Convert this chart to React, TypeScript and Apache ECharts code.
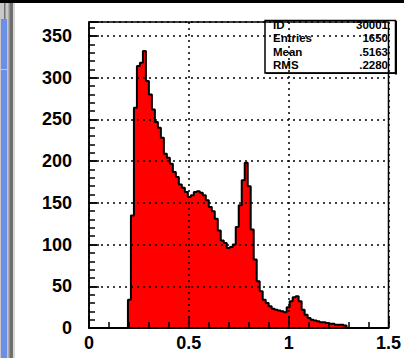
import React, { useEffect, useRef } from "react";
import * as echarts from "echarts";

// Histogram 30001: 100 bins of width 0.015 on [0, 1.5]
const X_MIN = 0;
const X_MAX = 1.5;
const BIN_WIDTH = 0.015;
const Y_MAX = 366.8;

const BIN_COUNTS = [
  0, 0, 0, 0, 0, 0, 0, 0, 0, 0,
  0, 0, 0, 34, 135, 264, 314, 318, 332, 296,
  280, 262, 247, 240, 228, 209, 204, 197, 187, 181,
  172, 168, 163, 157, 159, 163, 164, 162, 159, 153,
  145, 140, 131, 117, 105, 102, 96, 97, 100, 121,
  147, 177, 198, 170, 118, 82, 56, 44, 34, 30,
  26, 23, 22, 21, 20, 19, 25, 32, 37, 38,
  32, 22, 16, 12, 10, 9, 8, 7, 7, 6,
  5, 5, 4, 4, 4, 3, 0, 0, 0, 0,
  0, 0, 0, 0, 0, 0, 0, 0, 0, 0,
];

const STAT_NAMES = ["ID", "Entries", "Mean", "RMS"];
const STAT_VALUES = ["30001", "1650", ".5163", ".2280"];

const LABEL_FONT = "Liberation Sans";

export default function App() {
  const ref = useRef<HTMLDivElement>(null);

  useEffect(() => {
    if (!ref.current) return;
    const chart = echarts.init(ref.current, null, { renderer: "svg" });

    // left edges of each bin, plus the closing edge at X_MAX
    const stepData: number[][] = BIN_COUNTS.map((c, i) => [X_MIN + i * BIN_WIDTH, c]);
    stepData.push([X_MAX, BIN_COUNTS[BIN_COUNTS.length - 1]]);

    const dotted = { type: [2, 4] as number[], width: 1.5, color: "#000" };
    const gridBox = { left: 89, top: 22, width: 307, height: 306 };

    const statRowsY = [24.5, 38, 51.5, 65];
    const statTexts: any[] = [];
    STAT_NAMES.forEach((name, i) => {
      statTexts.push({
        type: "text",
        x: 273,
        y: statRowsY[i],
        style: {
          text: name,
          font: `bold 11.5px "${LABEL_FONT}"`,
          fill: "#000",
          align: "left",
          verticalAlign: "middle",
        },
      });
      statTexts.push({
        type: "text",
        x: 388,
        y: statRowsY[i],
        style: {
          text: STAT_VALUES[i],
          font: `bold 11.5px "${LABEL_FONT}"`,
          fill: "#000",
          align: "right",
          verticalAlign: "middle",
        },
      });
    });

    chart.setOption({
      animation: false,
      backgroundColor: "#fff",
      grid: [
        { ...gridBox, show: true, borderColor: "#000", borderWidth: 1.5, backgroundColor: "transparent" },
        { ...gridBox, show: false },
      ],
      xAxis: [
        {
          type: "value",
          gridIndex: 0,
          min: X_MIN,
          max: X_MAX,
          interval: 0.5,
          z: 5,
          axisLine: { show: true, lineStyle: { color: "#000", width: 1.5 } },
          axisTick: { show: true, inside: true, length: 12, lineStyle: { color: "#000", width: 1.5 } },
          minorTick: { show: true, splitNumber: 5, length: 6, lineStyle: { color: "#000", width: 1.5 } },
          splitLine: { show: true, lineStyle: dotted },
          axisLabel: {
            margin: 6,
            color: "#000",
            fontFamily: LABEL_FONT,
            fontWeight: "bold",
            fontSize: 18,
            alignMinLabel: "center",
            alignMaxLabel: "center",
            formatter: (v: number) => String(v),
          },
        },
        { type: "value", gridIndex: 1, min: X_MIN, max: X_MAX, show: false },
      ],
      yAxis: [
        {
          type: "value",
          gridIndex: 0,
          min: 0,
          max: Y_MAX,
          interval: 50,
          z: 5,
          axisLine: { show: true, lineStyle: { color: "#000", width: 1.5 } },
          axisTick: { show: true, inside: true, length: 10, lineStyle: { color: "#000", width: 1.5 } },
          splitLine: { show: true, lineStyle: dotted },
          axisLabel: {
            margin: 17,
            color: "#000",
            fontFamily: LABEL_FONT,
            fontWeight: "bold",
            fontSize: 18,
            formatter: (v: number) => (v % 50 === 0 ? String(v) : ""),
          },
        },
        {
          // minor ticks every 10 entries
          type: "value",
          gridIndex: 1,
          min: 0,
          max: Y_MAX,
          interval: 10,
          z: 5,
          axisLine: { show: false },
          axisTick: { show: true, inside: true, length: 6, lineStyle: { color: "#000", width: 1.5 } },
          splitLine: { show: false },
          axisLabel: { show: false },
        },
      ],
      series: [
        {
          type: "line",
          xAxisIndex: 0,
          yAxisIndex: 0,
          step: "end",
          data: stepData,
          symbol: "none",
          lineStyle: { color: "#000", width: 2 },
          areaStyle: { color: "#ff0000", opacity: 1 },
          z: 2,
        },
      ],
      graphic: [
        // window chrome
        { type: "rect", shape: { x: 0, y: 0, width: 404, height: 3 }, style: { fill: "#000" } },
        { type: "rect", shape: { x: 0, y: 3, width: 15, height: 355 }, style: { fill: "#c8c8c8" } },
        { type: "rect", shape: { x: 1, y: 19, width: 6, height: 339 }, style: { fill: "#6b8ee8" } },
        { type: "rect", shape: { x: 1, y: 69, width: 6, height: 1 }, style: { fill: "#b8c8f0" } },
        { type: "rect", shape: { x: 4, y: 3, width: 1.5, height: 16 }, style: { fill: "#707070" } },
        { type: "rect", shape: { x: 8.5, y: 3, width: 1.5, height: 355 }, style: { fill: "#909090" } },
        { type: "rect", shape: { x: 10, y: 3, width: 3, height: 355 }, style: { fill: "#6e6e6e" } },
        { type: "rect", shape: { x: 13, y: 3, width: 2, height: 355 }, style: { fill: "#d8d8d8" } },
        // statistics box
        {
          type: "rect",
          z: 10,
          shape: { x: 265, y: 20.5, width: 130.5, height: 52.5 },
          style: { fill: "none", stroke: "#000", lineWidth: 1.5 },
        },
        { type: "rect", z: 10, shape: { x: 395, y: 21, width: 2, height: 53.5 }, style: { fill: "#000" } },
        { type: "rect", z: 10, shape: { x: 266, y: 72.5, width: 131, height: 1.5 }, style: { fill: "#000" } },
        ...statTexts.map((t) => ({ ...t, z: 10 })),
      ],
    });

    return () => chart.dispose();
  }, []);

  return (
    <div
      ref={ref}
      style={{ position: "fixed", left: 0, top: 0, width: 404, height: 358 }}
    />
  );
}
